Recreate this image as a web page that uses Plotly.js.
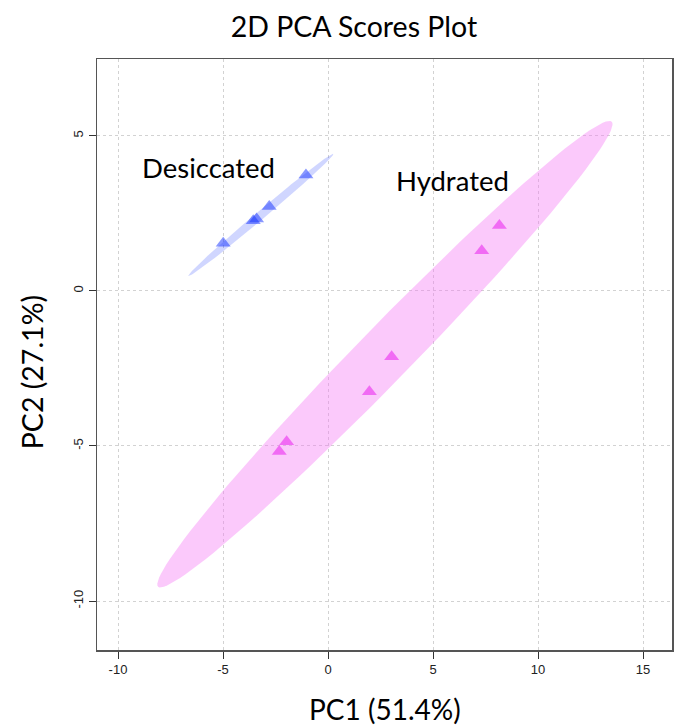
<!DOCTYPE html>
<html>
<head>
<meta charset="utf-8">
<script src="https://cdn.plot.ly/plotly-3.0.1.min.js"></script>
<style>html,body{margin:0;padding:0;background:#fff;}#chart{width:678px;height:727px;}</style>
</head>
<body>
<div id="chart"></div>
<script>
// ---- data ----
const groups = ["Desiccated", "Hydrated"];
const desiccatedPC1 = [-4.99, -3.56, -3.40, -2.80, -1.05];
const desiccatedPC2 = [1.54, 2.26, 2.32, 2.72, 3.74];
const hydratedPC1 = [8.16, 7.32, 3.03, 1.97, -1.97, -2.32];
const hydratedPC2 = [2.11, 1.30, -2.12, -3.25, -4.86, -5.18];
// confidence ellipses: centre, major half-axis vector, minor half-axis vector (data units)
const ellipseCentreX = [-3.20, 2.71];
const ellipseCentreY = [2.45, -2.04];
const ellipseMajorX = [3.45, 10.80];
const ellipseMajorY = [1.97, 7.50];
const ellipseMinorX = [0.13, 0.92];
const ellipseMinorY = [-0.105, -0.61];
const xTicks = [-10, -5, 0, 5, 10, 15];
const yTicks = [-10, -5, 0, 5];
const labelX = [-5.67, 5.95];
const labelY = [3.97, 3.55];

const markerColors = ["rgba(20,50,255,0.5)", "rgba(238,90,242,0.85)"];
const fillColors = ["rgba(20,50,255,0.2)", "rgba(245,120,245,0.4)"];

function ellipse(i) {
  const xs = [], ys = [];
  for (let k = 0; k <= 120; k++) {
    const t = 2 * Math.PI * k / 120;
    xs.push(ellipseCentreX[i] + Math.cos(t) * ellipseMajorX[i] + Math.sin(t) * ellipseMinorX[i]);
    ys.push(ellipseCentreY[i] + Math.cos(t) * ellipseMajorY[i] + Math.sin(t) * ellipseMinorY[i]);
  }
  return {xs, ys};
}

const traces = [];
[0, 1].forEach(i => {
  const e = ellipse(i);
  traces.push({x: e.xs, y: e.ys, type: "scatter", mode: "lines", fill: "toself",
    fillcolor: fillColors[i], line: {width: 0}, hoverinfo: "skip", showlegend: false});
});
traces.push({x: desiccatedPC1, y: desiccatedPC2, type: "scatter", mode: "markers", name: groups[0],
  marker: {symbol: "triangle-up", size: 13, color: markerColors[0], line: {width: 0}}, showlegend: false});
traces.push({x: hydratedPC1, y: hydratedPC2, type: "scatter", mode: "markers", name: groups[1],
  marker: {symbol: "triangle-up", size: 13, color: markerColors[1], line: {width: 0}}, showlegend: false});

const axisCommon = {
  showgrid: true, gridcolor: "#d2d2d2", griddash: "dot", gridwidth: 1,
  zeroline: false, showline: true, mirror: true, linecolor: "#555", linewidth: 1.5,
  ticks: "outside", ticklen: 7, tickcolor: "#333", tickwidth: 1,
  tickfont: {family: "Arial, Liberation Sans, sans-serif", size: 13, color: "#222"},
  tickmode: "array"
};

const layout = {
  width: 678, height: 727,
  margin: {l: 97, r: 6, t: 59, b: 77},
  paper_bgcolor: "#fff", plot_bgcolor: "#fff",
  title: {text: "2D PCA Scores Plot", x: 0.522, xanchor: "center", y: 0.963, yanchor: "middle",
    font: {family: "Lato, Carlito, sans-serif", size: 28.5, color: "#000"}},
  xaxis: Object.assign({}, axisCommon, {range: [-11.0, 16.38], tickvals: xTicks, ticktext: xTicks.map(String)}),
  yaxis: Object.assign({}, axisCommon, {range: [-11.58, 7.48], tickvals: yTicks, ticktext: yTicks.map(String), tickangle: -90}),
  annotations: [
    {text: groups[0], x: labelX[0], y: labelY[0], xref: "x", yref: "y", showarrow: false,
      font: {family: "Lato, Carlito, sans-serif", size: 27.5, color: "#000"}},
    {text: groups[1], x: labelX[1], y: labelY[1], xref: "x", yref: "y", showarrow: false,
      font: {family: "Lato, Carlito, sans-serif", size: 27.5, color: "#000"}},
    {text: "PC1 (51.4%)", xref: "paper", yref: "paper", x: 0.5, y: -0.1, yanchor: "middle", showarrow: false,
      font: {family: "Lato, Carlito, sans-serif", size: 28, color: "#000"}},
    {text: "PC2 (27.1%)", xref: "paper", yref: "paper", x: -0.113, xanchor: "center", y: 0.47, yanchor: "middle",
      textangle: -90, showarrow: false,
      font: {family: "Lato, Carlito, sans-serif", size: 28.5, color: "#000"}}
  ]
};

Plotly.newPlot("chart", traces, layout, {displayModeBar: false, staticPlot: true});
</script>
</body>
</html>
